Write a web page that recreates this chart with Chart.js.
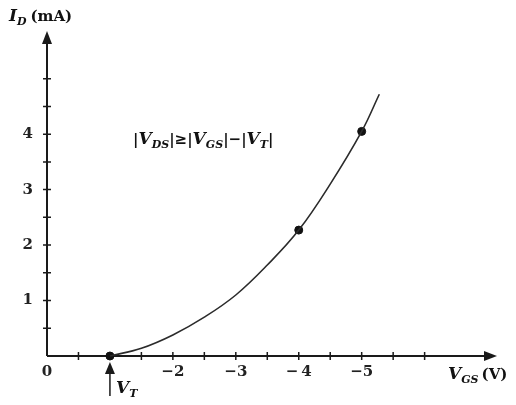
<!DOCTYPE html>
<html>
<head>
<meta charset="utf-8">
<script src="https://cdn.jsdelivr.net/npm/chart.js@4/dist/chart.umd.min.js"></script>
<style>
    html, body { margin: 0; padding: 0; background: #fff; }
    #wrap { width: 516px; height: 405px; position: relative; }
</style>
</head>
<body>
<div id="wrap"><canvas id="id-vgs-chart"></canvas></div>
<script>
// Curve (V_GS in volts, I_D in mA)
var vgsValues = [-1, -1.5, -2, -2.5, -3, -3.5, -4, -4.5, -5, -5.28];
var idValues = [0, 0.14, 0.38, 0.70, 1.10, 1.64, 2.27, 3.1, 4.05, 4.72];

// Marked points on the curve
var markVgs = [-1, -4, -5];
var markId = [0, 2.27, 4.05];

// Axis ticks
var xTickValues = [0, -0.5, -1, -1.5, -2, -2.5, -3, -3.5, -4, -4.5, -5, -5.5, -6];
var xTickLabels = { '0': '0', '-2': '\u22122', '-3': '\u22123', '-4': '\u2212\u20094', '-5': '\u22125' };
var yTickValues = [0, 0.5, 1, 1.5, 2, 2.5, 3, 3.5, 4, 4.5, 5];
var yTickLabels = { '1': '1', '2': '2', '3': '3', '4': '4' };

var X_MIN = -7.15;
var Y_MAX = 5.86;
var SERIF = '"DejaVu Serif", "Liberation Serif", serif';

function toPoints(xs, ys) {
    return xs.map(function (v, i) {
        return { x: v, y: ys[i] };
    });
}

// Draw a run of text pieces (main text + subscripts) left to right
function drawRich(ctx, parts, x, y) {
    ctx.save();
    ctx.textBaseline = 'alphabetic';
    ctx.textAlign = 'left';
    ctx.fillStyle = '#111';
    parts.forEach(function (p) {
        ctx.font = p.font;
        ctx.fillText(p.t, x + (p.dx || 0), y + (p.dy || 0));
        x += ctx.measureText(p.t).width + (p.dx || 0) + (p.after || 0);
    });
    ctx.restore();
}

function arrowHead(ctx, tipX, tipY, dir, len, half) {
    ctx.beginPath();
    if (dir === 'right') {
        ctx.moveTo(tipX, tipY);
        ctx.lineTo(tipX - len, tipY - half);
        ctx.lineTo(tipX - len, tipY + half);
    } else {
        ctx.moveTo(tipX, tipY);
        ctx.lineTo(tipX - half, tipY + len);
        ctx.lineTo(tipX + half, tipY + len);
    }
    ctx.closePath();
    ctx.fill();
}

var axesPlugin = {
    id: 'arrowAxes',
    beforeDatasetsDraw: function (chart) {
        var ctx = chart.ctx;
        var xs = chart.scales.x;
        var ys = chart.scales.y;
        var x0 = xs.getPixelForValue(0);
        var y0 = ys.getPixelForValue(0);
        var xEnd = xs.getPixelForValue(X_MIN);
        var yEnd = ys.getPixelForValue(Y_MAX);

        ctx.save();
        ctx.strokeStyle = '#1a1a1a';
        ctx.fillStyle = '#1a1a1a';
        ctx.lineWidth = 2;

        ctx.beginPath();
        ctx.moveTo(x0, y0);
        ctx.lineTo(xEnd - 8, y0);
        ctx.moveTo(x0, y0);
        ctx.lineTo(x0, yEnd + 8);
        ctx.stroke();

        arrowHead(ctx, xEnd, y0, 'right', 13, 5);
        arrowHead(ctx, x0, yEnd, 'up', 13, 5);

        // cross ticks
        ctx.lineWidth = 1.5;
        ctx.beginPath();
        xTickValues.forEach(function (v) {
            if (v === 0) return;
            var px = xs.getPixelForValue(v);
            ctx.moveTo(px, y0 - 4);
            ctx.lineTo(px, y0 + 4);
        });
        yTickValues.forEach(function (v) {
            if (v === 0) return;
            var py = ys.getPixelForValue(v);
            ctx.moveTo(x0 - 4, py);
            ctx.lineTo(x0 + 4, py);
        });
        ctx.stroke();
        ctx.restore();
    },
    afterDraw: function (chart) {
        var ctx = chart.ctx;
        var xs = chart.scales.x;
        var ys = chart.scales.y;
        var y0 = ys.getPixelForValue(0);
        var vtX = xs.getPixelForValue(-1);

        var big = 'italic bold 17px ' + SERIF;
        var sub = 'italic bold 11px ' + SERIF;
        var plain = 'bold 15px ' + SERIF;

        // y-axis title
        drawRich(ctx, [
            { t: 'I', font: big },
            { t: 'D', font: sub, dy: 4, after: 4 },
            { t: '(mA)', font: plain }
        ], 9, 21);

        // x-axis title
        drawRich(ctx, [
            { t: 'V', font: big },
            { t: 'GS', font: sub, dy: 4, after: 3 },
            { t: '(V)', font: plain }
        ], 448, 379);

        // saturation condition
        drawRich(ctx, [
            { t: '|', font: plain },
            { t: 'V', font: big },
            { t: 'DS', font: sub, dy: 4 },
            { t: '|\u2265|', font: plain },
            { t: 'V', font: big },
            { t: 'GS', font: sub, dy: 4 },
            { t: '|\u2212|', font: plain },
            { t: 'V', font: big },
            { t: 'T', font: sub, dy: 4 },
            { t: '|', font: plain }
        ], 133, 144);

        // threshold marker
        ctx.save();
        ctx.strokeStyle = '#1a1a1a';
        ctx.fillStyle = '#1a1a1a';
        ctx.lineWidth = 1.5;
        ctx.beginPath();
        ctx.moveTo(vtX, y0 + 40);
        ctx.lineTo(vtX, y0 + 14);
        ctx.stroke();
        arrowHead(ctx, vtX, y0 + 6, 'up', 12, 5);
        ctx.restore();

        drawRich(ctx, [
            { t: 'V', font: big },
            { t: 'T', font: sub, dy: 4 }
        ], vtX + 6, y0 + 37);
    }
};

new Chart(document.getElementById('id-vgs-chart'), {
    type: 'scatter',
    data: {
        datasets: [{
            data: toPoints(vgsValues, idValues),
            showLine: true,
            borderColor: '#2b2b2b',
            borderWidth: 1.6,
            pointRadius: 0,
            tension: 0.4,
            clip: false
        }, {
            data: toPoints(markVgs, markId),
            showLine: false,
            pointRadius: 4,
            pointBackgroundColor: '#111',
            pointBorderColor: '#111',
            clip: false
        }]
    },
    options: {
        responsive: true,
        maintainAspectRatio: false,
        animation: false,
        layout: {
            padding: { top: 31, right: 19, left: 0, bottom: 0 }
        },
        plugins: {
            legend: { display: false },
            tooltip: { enabled: false }
        },
        scales: {
            x: {
                type: 'linear',
                reverse: true,
                min: X_MIN,
                max: 0,
                border: { display: false },
                grid: { display: false, drawTicks: false },
                afterBuildTicks: function (scale) {
                    scale.ticks = xTickValues.map(function (v) {
                        return { value: v };
                    });
                },
                afterFit: function (scale) {
                    scale.height = 49;
                },
                ticks: {
                    autoSkip: false,
                    maxRotation: 0,
                    padding: 7,
                    color: '#222',
                    font: { family: SERIF, size: 15, weight: 'bold' },
                    callback: function (v) {
                        return xTickLabels[String(v)] || '';
                    }
                }
            },
            y: {
                type: 'linear',
                min: 0,
                max: Y_MAX,
                border: { display: false },
                grid: { display: false, drawTicks: false },
                afterBuildTicks: function (scale) {
                    scale.ticks = yTickValues.map(function (v) {
                        return { value: v };
                    });
                },
                afterFit: function (scale) {
                    scale.width = 47;
                },
                ticks: {
                    autoSkip: false,
                    padding: 14,
                    color: '#222',
                    font: { family: SERIF, size: 15, weight: 'bold' },
                    callback: function (v) {
                        return yTickLabels[String(v)] || '';
                    }
                }
            }
        }
    },
    plugins: [axesPlugin]
});
</script>
</body>
</html>
